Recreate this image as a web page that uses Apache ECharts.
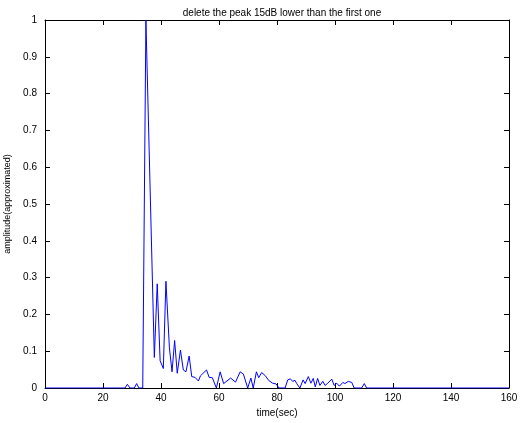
<!DOCTYPE html>
<html><head><meta charset="utf-8">
<script src="https://cdn.jsdelivr.net/npm/echarts@6/dist/echarts.min.js"></script>
<style>html,body{margin:0;padding:0;background:#fff}#c{width:520px;height:423px}</style>
</head><body><div id="c"></div>
<script>
var titleText = 'delete the peak 15dB lower than the first one';
var xLabel = 'time(sec)';
var yLabel = 'amplitude(approximated)';
var timeSec = [0,27.6,28.4,29.3,30.8,31.6,32.4,33.7,34.8,37.7,38.7,39.7,40.8,41.7,42.9,43.8,44.7,45.6,46.7,47.7,48.6,49.7,50.6,51.7,52.9,53.6,55.7,56.6,57.7,59.1,60.4,61.6,64.0,65.7,67.3,68.4,69.9,71.0,71.8,72.9,73.7,74.7,75.9,77.2,78.5,79.7,80.7,82.8,83.7,84.6,85.4,86.2,86.8,87.9,89,89.7,90.8,91.7,92.5,93.2,94,94.8,95.8,96.6,97.5,98.9,99.7,100.6,101.5,102.7,103.4,104.6,105.8,106.6,109.2,110.1,110.9,160];
var amplitude = [0,0,0.01,0,0,0.012,0,0,1.0,0.083,0.283,0.074,0.053,0.29,0.109,0.044,0.129,0.04,0.103,0.049,0.044,0.087,0.031,0.029,0.019,0.033,0.049,0.029,0.028,0,0.044,0.012,0.027,0.016,0.044,0.038,0,0.027,0,0.044,0.028,0.042,0.034,0.02,0.013,0.011,0,0,0.022,0.025,0.018,0.021,0.012,0,0.022,0.012,0.031,0.013,0.026,0.003,0.026,0.007,0.018,0.007,0.013,0.024,0.007,0.013,0.005,0.015,0.012,0.018,0.015,0,0,0.012,0,0];
var xTicks = [0,20,40,60,80,100,120,140,160];
var yTicks = [0,0.1,0.2,0.3,0.4,0.5,0.6,0.7,0.8,0.9,1];

var data = timeSec.map(function(t,i){return [t, amplitude[i]];});
var font = 'Liberation Sans, Arial, sans-serif';
var axLine = {show:true, onZero:false, lineStyle:{color:'#000', width:1}};
var tick = {show:true, inside:true, length:5, lineStyle:{color:'#000', width:1}};
var chart = echarts.init(document.getElementById('c'), null, {renderer:'canvas'});
chart.setOption({
  animation:false,
  backgroundColor:'#fff',
  title:{text:titleText, left:277, textAlign:'center', top:3, textStyle:{fontFamily:font, fontSize:10, fontWeight:'normal', color:'#000'}},
  grid:{left:45, right:11, top:20, bottom:35, containLabel:false, outerBoundsMode:'none'},
  xAxis:[{type:'value', min:0, max:160, interval:20, position:'bottom',
    name:xLabel, nameLocation:'middle', nameGap:17, nameTextStyle:{fontFamily:font, fontSize:10, color:'#000'},
    axisLine:axLine, axisTick:tick, splitLine:{show:false},
    axisLabel:{fontFamily:font, fontSize:10, color:'#000', margin:5}},
   {type:'value', min:0, max:160, interval:20, position:'top',
    axisLine:axLine, axisTick:tick, splitLine:{show:false}, axisLabel:{show:false}}],
  yAxis:[{type:'value', min:0, max:1, interval:0.1, position:'left',
    name:yLabel, nameLocation:'middle', nameGap:33, nameRotate:90, nameTextStyle:{fontFamily:font, fontSize:9, color:'#000'},
    axisLine:axLine, axisTick:tick, splitLine:{show:false},
    axisLabel:{fontFamily:font, fontSize:10, color:'#000', margin:8, formatter:function(v){return String(Math.round(v*10)/10);}}},
   {type:'value', min:0, max:1, interval:0.1, position:'right',
    axisLine:axLine, axisTick:tick, splitLine:{show:false}, axisLabel:{show:false}}],
  series:[{type:'line', data:data, xAxisIndex:0, yAxisIndex:0, symbol:'none', lineStyle:{color:'#0000ff', width:1}, z:5}]
});
</script></body></html>
